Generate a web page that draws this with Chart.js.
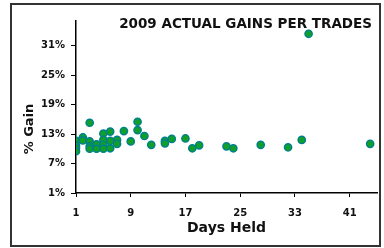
<!DOCTYPE html>
<html>
<head>
<meta charset="utf-8">
<script src="https://cdn.jsdelivr.net/npm/chart.js@4/dist/chart.umd.min.js"></script>
<style>
  html, body { margin: 0; padding: 0; background: #fff; }
  #wrap { width: 384px; height: 248px; }
</style>
</head>
<body>
<div id="wrap"><canvas id="Chart" width="384" height="248"></canvas></div>
<script>
const chartTitle = '2009 ACTUAL GAINS PER TRADES';
const xTitle = 'Days Held';
const yTitle = '% Gain';

const daysHeld = [1, 1, 1, 1, 2, 2, 3, 3, 3, 3, 4, 4, 5, 5, 5, 5, 6, 6, 6, 7, 7, 8, 9, 10, 10, 11, 12, 14, 14, 15, 17, 18, 19, 23, 24, 28, 32, 34, 35, 44];
const gains = [11.6, 10.7, 10.2, 9.5, 12.3, 11.7, 15.3, 11.5, 10.5, 10.0, 10.9, 10.0, 13.1, 11.8, 10.8, 10.0, 13.5, 11.6, 10.1, 11.8, 11.0, 13.6, 11.5, 15.5, 13.8, 12.6, 10.8, 11.6, 11.1, 12.0, 12.1, 10.1, 10.7, 10.5, 10.1, 10.8, 10.3, 11.8, 33.4, 11.0];

const xTicks = [1, 9, 17, 25, 33, 41];
const yTicks = [1, 7, 13, 19, 25, 31];

const font = 'DejaVu Sans';

// frame, chart title and rotated y title
const decor = {
    id: 'decor',
    afterDraw(chart) {
        const c = chart.ctx;
        c.save();
        c.strokeStyle = '#333';
        c.lineWidth = 2;
        c.strokeRect(11, 4, 369, 242);
        c.fillStyle = '#111';
        c.font = 'bold 13.5px "' + font + '"';
        c.textAlign = 'right';
        c.textBaseline = 'middle';
        c.fillText(chartTitle, 372, 24);
        c.translate(30, 129);
        c.rotate(-Math.PI / 2);
        c.textAlign = 'center';
        c.font = 'bold 13px "' + font + '"';
        c.fillText(yTitle, 0, 0);
        c.restore();
    }
};

new Chart(document.getElementById('Chart'), {
    type: 'scatter',
    data: {
        datasets: [{
            data: daysHeld.map((d, i) => ({x: d, y: gains[i]})),
            backgroundColor: '#10a028',
            borderColor: '#00808a',
            borderWidth: 1.5,
            pointRadius: 3.6,
            pointHoverRadius: 3.6
        }]
    },
    options: {
        responsive: false,
        animation: false,
        layout: { padding: { left: 12, right: 7, top: 21, bottom: 0 } },
        plugins: {
            legend: { display: false },
            tooltip: { enabled: false }
        },
        scales: {
            x: {
                type: 'linear',
                min: 1,
                max: 45,
                afterBuildTicks: s => { s.ticks = xTicks.map(v => ({value: v})); },
                afterFit: s => { s.height = 55; },
                grid: { drawOnChartArea: false, tickLength: 4, color: '#000' },
                border: { color: '#000', width: 1.5 },
                ticks: { color: '#111', padding: 10, font: { family: font, size: 10, weight: 'bold' } },
                title: {
                    display: true,
                    text: xTitle,
                    color: '#111',
                    padding: { top: 11, bottom: 11 },
                    font: { family: font, size: 14, weight: 'bold' }
                }
            },
            y: {
                min: 1,
                max: 36,
                afterBuildTicks: s => { s.ticks = yTicks.map(v => ({value: v})); },
                afterFit: s => { s.width = 64; },
                grid: { drawOnChartArea: false, tickLength: 5, color: '#000' },
                border: { color: '#000', width: 1.5 },
                ticks: {
                    color: '#111',
                    padding: 6,
                    font: { family: font, size: 10, weight: 'bold' },
                    callback: v => v + '%'
                }
            }
        }
    },
    plugins: [decor]
});
</script>
</body>
</html>
